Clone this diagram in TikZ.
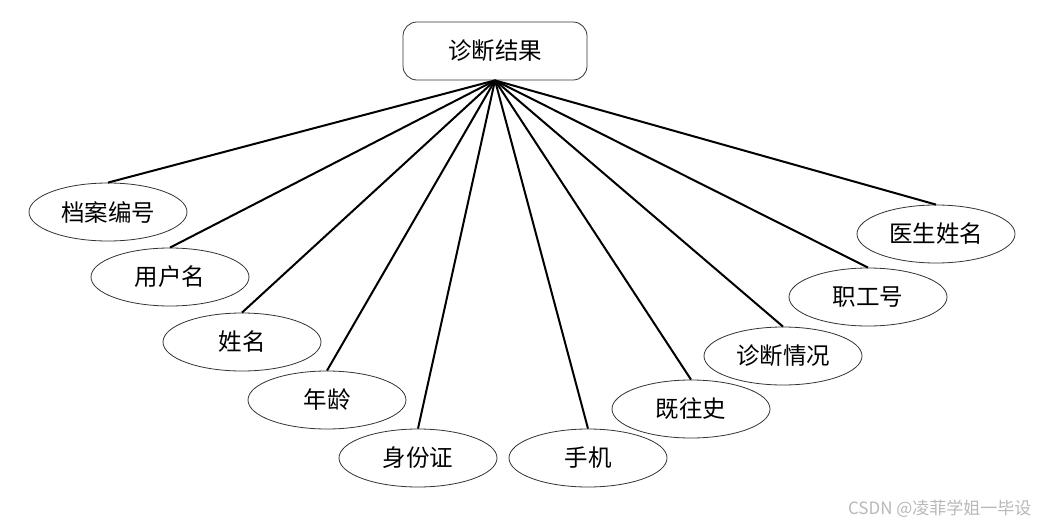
\documentclass[tikz,border=0pt]{standalone}
\usepackage{fontspec}
\setmainfont{Noto Sans CJK SC}
\usetikzlibrary{shapes.geometric}
\begin{document}
\begin{tikzpicture}[x=1pt,y=-1pt,
  attr/.style={draw=black!80, line width=0.8pt, ellipse, minimum width=158pt, minimum height=58pt, inner sep=0pt, font=\fontsize{23.5}{26}\selectfont},
  ent/.style={draw=black!80, line width=0.8pt, rounded corners=14pt, minimum width=184pt, minimum height=58pt, inner sep=0pt, font=\fontsize{23.5}{26}\selectfont},
  link/.style={line width=2pt, black}]
\useasboundingbox (0,0) rectangle (1041,527);
\node[ent] (r) at (495,51) {诊断结果};
\node[attr] (a1) at (108,212) {档案编号};
\node[attr] (a2) at (170,277) {用户名};
\node[attr] (a3) at (242,342) {姓名};
\node[attr] (a4) at (327,400) {年龄};
\node[attr] (a5) at (418,458) {身份证};
\node[attr] (a6) at (588,458) {手机};
\node[attr] (a7) at (691,409) {既往史};
\node[attr] (a8) at (783,356) {诊断情况};
\node[attr] (a9) at (868,297) {职工号};
\node[attr] (a10) at (936,234) {医生姓名};
\foreach \i in {1,...,10} {\draw[link] (r.south) -- (a\i.north);}
\node[anchor=east, text=black!28, font=\fontsize{17}{19}\selectfont] (wm) at (1035,509) {CSDN @凌菲学姐一毕设};
\end{tikzpicture}
\end{document}
